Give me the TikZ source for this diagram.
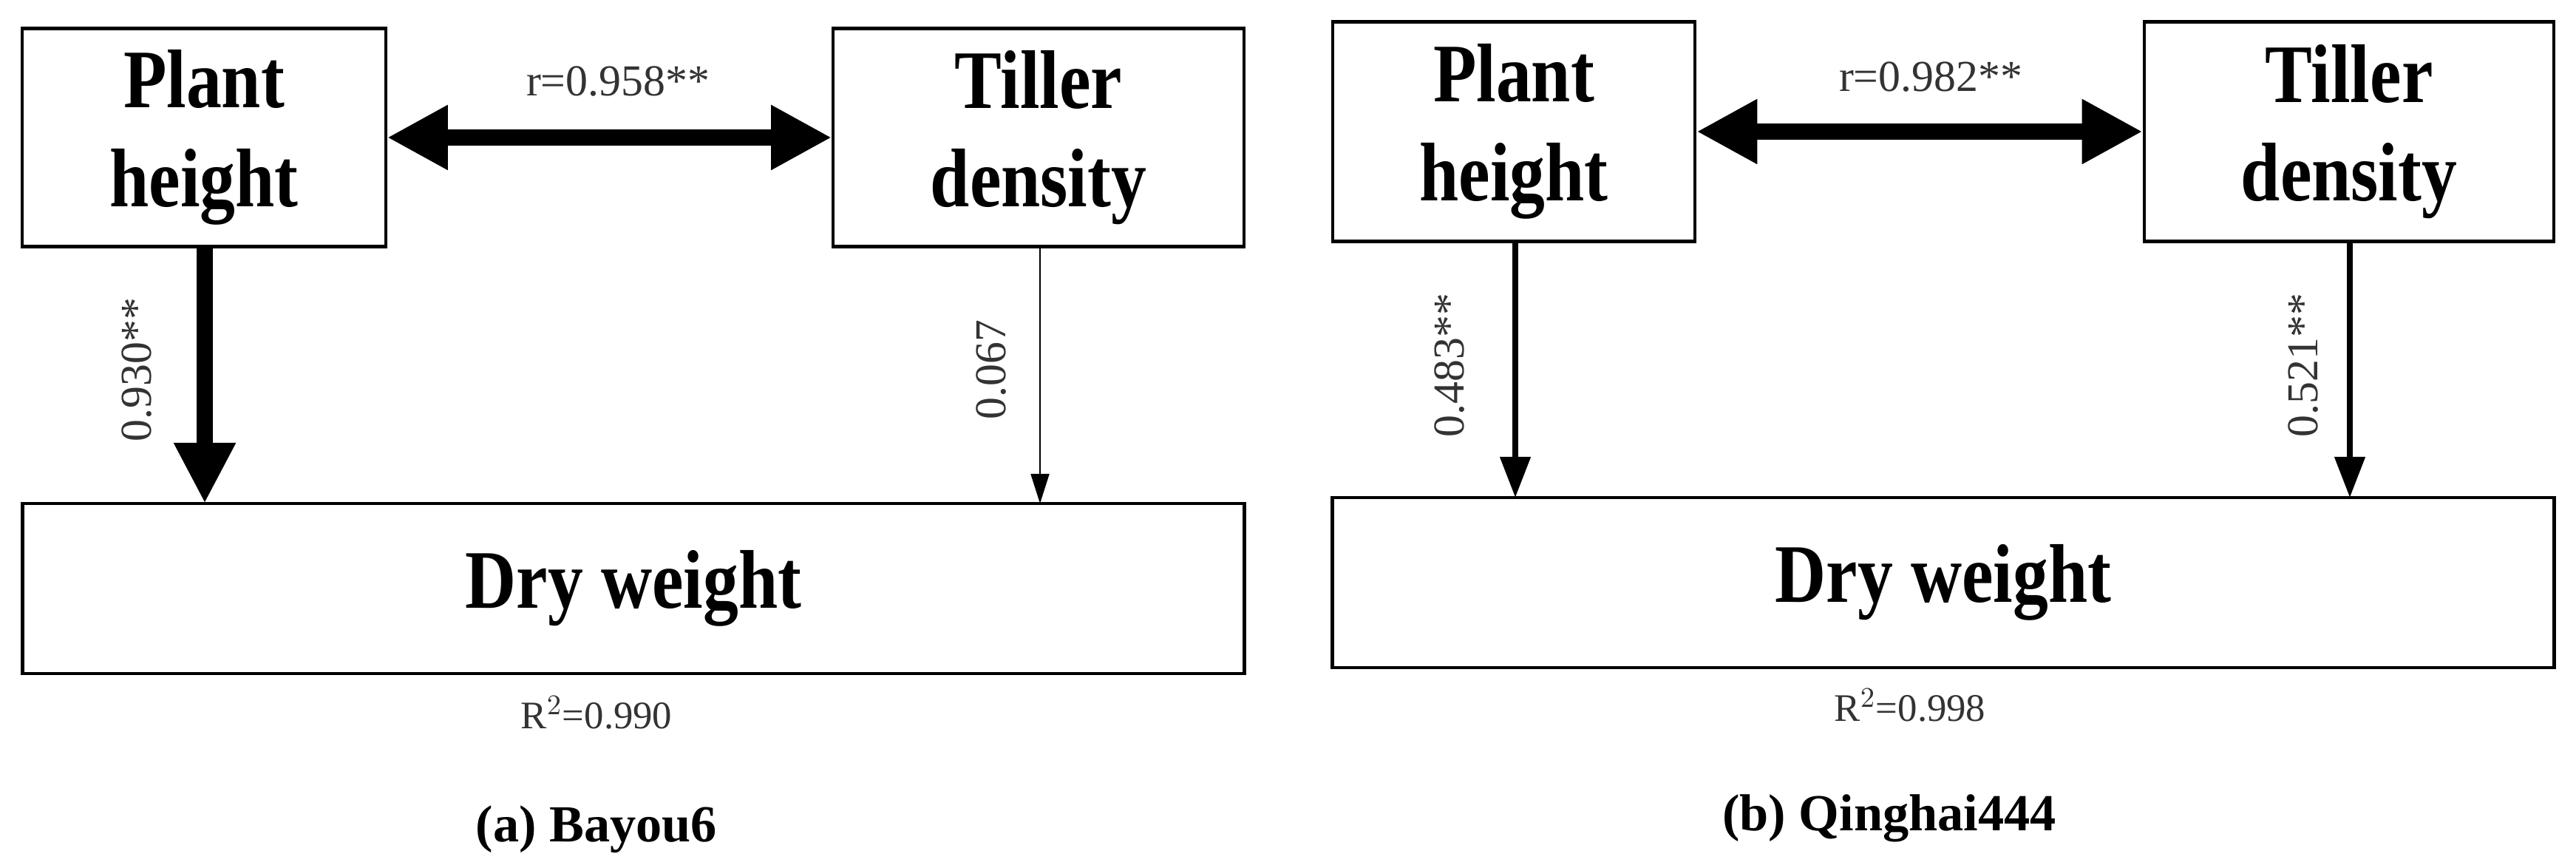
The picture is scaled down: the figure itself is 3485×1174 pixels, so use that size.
\documentclass[tikz,border=0pt]{standalone}
\usepackage{fontspec}
\setmainfont{Liberation Serif}
\usetikzlibrary{arrows.meta}
\begin{document}
\begin{tikzpicture}[x=0.01cm,y=-0.01cm,
  box/.style={draw,line width=1.2pt,inner sep=0pt,font=\fontsize{32}{36}\selectfont\bfseries,align=center},
  lab/.style={font=\fontsize{17}{19}\selectfont,text=black!80},
  rlab/.style={font=\fontsize{15}{17}\selectfont,text=black!80},
  vlab/.style={font=\fontsize{17}{19}\selectfont,text=black!80,rotate=90},
  captext/.style={font=\fontsize{20}{22}\selectfont\bfseries},
  thick2/.style={line width=6pt,{Triangle[length=0.82cm,width=0.82cm]}-{Triangle[length=0.82cm,width=0.82cm]}},
  fat/.style={line width=6pt,-{Triangle[length=0.82cm,width=0.78cm]}},
  mid/.style={line width=2.2pt,-{Triangle[length=0.55cm,width=0.4cm]}},
  slim/.style={line width=0.5pt,-{Triangle[length=0.4cm,width=0.25cm]}}]
\useasboundingbox (0,0) rectangle (3485,1174);
% panel a
\node[box,minimum width=4.91cm,minimum height=2.95cm] (ph1) at (276,186) {\scalebox{0.85}[1]{Plant}\\[2pt]\scalebox{0.85}[1]{height}};
\node[box,minimum width=5.55cm,minimum height=2.95cm] (td1) at (1405,186) {\scalebox{0.85}[1]{Tiller}\\[2pt]\scalebox{0.85}[1]{density}};
\node[box,minimum width=16.52cm,minimum height=2.30cm] (dw1) at (857,796) {\scalebox{0.85}[1]{Dry weight}};
\draw[thick2] (ph1.east) -- (td1.west);
\node[lab] (r1) at (836,110) {r=0.958**};
\coordinate (a1s) at (277,334); \coordinate (a1e) at (277,681);
\draw[fat] (a1s) -- (a1e);
\coordinate (b1s) at (1407,334); \coordinate (b1e) at (1407,681);
\draw[slim] (b1s) -- (b1e);
\node[vlab] (l1) at (185,500) {0.930**};
\node[vlab] (l2) at (1341,500) {0.067};
\node[rlab] (R1) at (807,964) {R$^{2}$=0.990};
\node[captext] (c1) at (807,1122) {(a) Bayou6};
% panel b
\node[box,minimum width=4.90cm,minimum height=2.97cm] (ph2) at (2048,178) {\scalebox{0.85}[1]{Plant}\\[2pt]\scalebox{0.85}[1]{height}};
\node[box,minimum width=5.54cm,minimum height=2.97cm] (td2) at (3178,178) {\scalebox{0.85}[1]{Tiller}\\[2pt]\scalebox{0.85}[1]{density}};
\node[box,minimum width=16.52cm,minimum height=2.30cm] (dw2) at (2629,788) {\scalebox{0.85}[1]{Dry weight}};
\draw[thick2] (ph2.east) -- (td2.west);
\node[lab] (r2) at (2612,104) {r=0.982**};
\coordinate (a2s) at (2050,327); \coordinate (a2e) at (2050,673);
\draw[mid] (a2s) -- (a2e);
\coordinate (b2s) at (3179,327); \coordinate (b2e) at (3179,673);
\draw[mid] (b2s) -- (b2e);
\node[vlab] (l3) at (1961,494) {0.483**};
\node[vlab] (l4) at (3116,494) {0.521**};
\node[rlab] (R2) at (2584,954) {R$^{2}$=0.998};
\node[captext] (c2) at (2556,1107) {(b) Qinghai444};
\end{tikzpicture}
\end{document}
